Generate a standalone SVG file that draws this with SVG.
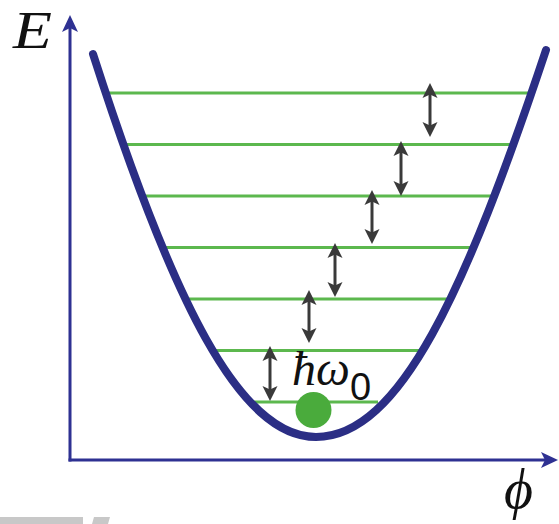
<svg xmlns="http://www.w3.org/2000/svg" width="559" height="524" viewBox="0 0 559 524">
  <style>
    .axis { stroke: #2e3192; stroke-width: 3; fill: none; }
    .level { stroke: #5cb84e; stroke-width: 3.2; }
    .well { stroke: #2b2e85; stroke-width: 8; fill: none; stroke-linecap: round; }
    .trans { stroke: #3a3a3a; stroke-width: 3; marker-start: url(#dh); marker-end: url(#dh); }
    .math { font-family: "Liberation Serif", "DejaVu Serif", serif; font-style: italic; fill: #111; }
  </style>
  <defs>
    <marker id="ah" markerUnits="userSpaceOnUse" viewBox="-18 -9 19 18" refX="-10" refY="0" markerWidth="19" markerHeight="18" orient="auto">
      <path d="M-17,-8 L0,0 L-17,8 L-13,0 Z" fill="#2e3192"/>
    </marker>
    <marker id="dh" markerUnits="userSpaceOnUse" viewBox="-16 -9 17 18" refX="-8" refY="0" markerWidth="17" markerHeight="18" orient="auto-start-reverse">
      <path d="M-15,-7.5 L0,0 L-15,7.5 L-11.5,0 Z" fill="#3a3a3a"/>
    </marker>
  </defs>

  <g id="bottom-strip" fill="#c8c8c8">
    <rect x="0" y="517" width="83" height="7"/>
    <path d="M94,517 L110,517 L108,524 L92,524 Z"/>
  </g>

  <g id="axes">
    <path class="axis" d="M70,461.5 V25" marker-end="url(#ah)"/>
    <path class="axis" d="M68.5,460 H548" marker-end="url(#ah)"/>
  </g>

  <g id="levels">
    <line class="level" x1="105" y1="93" x2="529" y2="93"/>
    <line class="level" x1="122" y1="144.5" x2="512" y2="144.5"/>
    <line class="level" x1="140" y1="196" x2="494" y2="196"/>
    <line class="level" x1="160" y1="247.5" x2="474" y2="247.5"/>
    <line class="level" x1="182" y1="299" x2="453" y2="299"/>
    <line class="level" x1="211" y1="350.5" x2="422" y2="350.5"/>
    <line class="level" x1="250" y1="402" x2="378" y2="402"/>
  </g>

  <g id="well">
    <path class="well" d="M93,54 C173,303 240,437 316,437 C400,437 466,290 546,50"/>
  </g>

  <g id="ground-state">
    <circle cx="313.5" cy="410" r="18" fill="#4aab3c"/>
  </g>

  <g id="connectors">
    <line class="trans" x1="430" y1="91" x2="430" y2="129"/>
    <line class="trans" x1="401" y1="149" x2="401" y2="188"/>
    <line class="trans" x1="372" y1="198" x2="372" y2="236"/>
    <line class="trans" x1="335" y1="251" x2="335" y2="289"/>
    <line class="trans" x1="309" y1="298" x2="309" y2="335"/>
    <line class="trans" x1="270" y1="354" x2="270" y2="393"/>
  </g>

  <g id="labels">
    <text class="math" x="13" y="48" font-size="52" textLength="39" lengthAdjust="spacingAndGlyphs">E</text>
    <text class="math" x="504" y="508" font-size="56">ϕ</text>
    <text class="math" x="292" y="385" font-size="48">ħω<tspan font-style="normal" font-family="Liberation Sans, sans-serif" font-size="38" dy="15">0</tspan></text>
  </g>
</svg>
